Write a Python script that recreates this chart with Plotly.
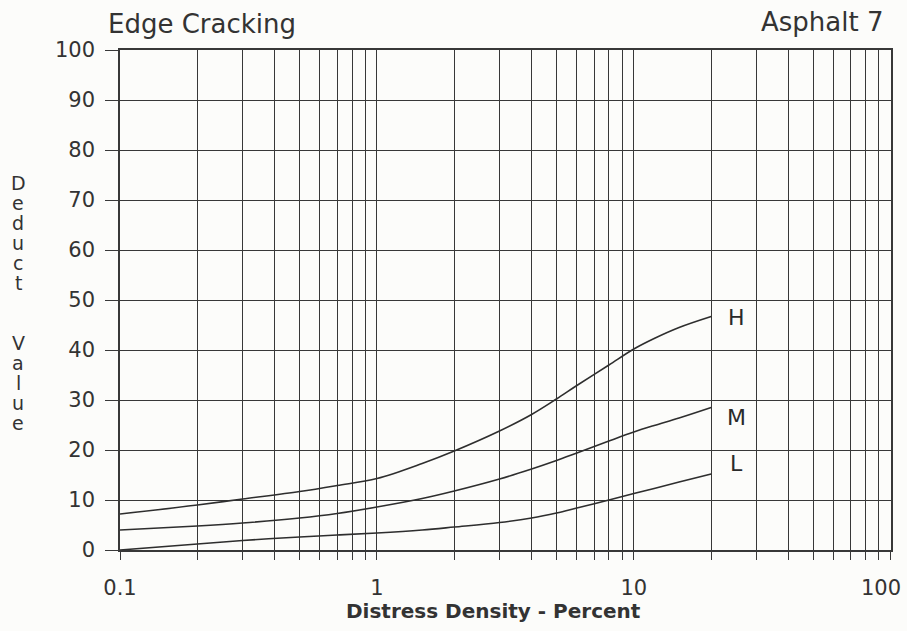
import math
import plotly.graph_objects as go

# ---- data ----
density = [0.1, 0.2, 0.3, 0.5, 0.7, 1, 1.5, 2, 3, 4, 5, 6, 8, 10, 12, 15, 20]
deduct_H = [7.2, 9.0, 10.2, 11.7, 12.9, 14.3, 17.3, 19.8, 23.8, 27.1, 30.2, 32.9, 37.0, 40.2, 42.3, 44.5, 46.7]
deduct_M = [4.0, 4.8, 5.4, 6.4, 7.3, 8.6, 10.3, 11.8, 14.2, 16.2, 17.9, 19.4, 21.8, 23.6, 24.9, 26.4, 28.5]
deduct_L = [0.0, 1.2, 1.9, 2.6, 3.0, 3.4, 4.0, 4.6, 5.5, 6.4, 7.4, 8.4, 10.0, 11.3, 12.3, 13.6, 15.2]
series_names = ["H", "M", "L"]
label_x = 25
label_y = [46.5, 26.5, 17.4]

x_tickvals = [m * 10 ** e for e in (-1, 0, 1) for m in range(1, 10)] + [100]
decade_labels = {0.1: "0.1", 1: "1", 10: "10"}
last_decade, last_decade_text = 100, "100"   # drawn beside the right edge, as in the reference
x_ticktext = [decade_labels.get(v, "") for v in x_tickvals]
y_tickvals = list(range(0, 101, 10))

title_left = "Edge Cracking"
title_right = "Asphalt 7"
x_title = "Distress Density - Percent"
y_title_letters = ["D", "e", "d", "u", "c", "t", "", "", "V", "a", "l", "u", "e"]

INK = "#383838"
FONT = "DejaVu Sans"

fig = go.Figure()
for name, ys in zip(series_names, [deduct_H, deduct_M, deduct_L]):
    fig.add_trace(go.Scatter(x=density, y=ys, mode="lines", name=name,
                             line=dict(color="#2e2e2e", width=1.6, shape="spline", smoothing=1.0),
                             showlegend=False, hoverinfo="skip"))

L_M, R_M, T_M, B_M = 120, 16, 50, 81
W, H = 907, 631
pw, ph = W - L_M - R_M, H - T_M - B_M

def px(xp):
    return (xp - L_M) / pw

def py(yp):
    return (H - B_M - yp) / ph

ann = []
for name, yv in zip(series_names, label_y):
    ann.append(dict(x=math.log10(label_x), y=yv, xref="x", yref="y", text=name, showarrow=False,
                    font=dict(family=FONT, size=22, color="#2a2a2a"), xanchor="center", yanchor="middle"))
ann.append(dict(x=math.log10(last_decade), y=py(588), xref="x", yref="paper", text=last_decade_text,
                showarrow=False, xshift=-10,
                font=dict(family=FONT, size=21, color="#333"), xanchor="center", yanchor="middle"))
ann.append(dict(x=px(106), y=py(24), xref="paper", yref="paper", text=title_left, showarrow=False,
                font=dict(family=FONT, size=26, color="#333"), xanchor="left", yanchor="middle"))
ann.append(dict(x=px(885), y=py(22), xref="paper", yref="paper", text=title_right, showarrow=False,
                font=dict(family=FONT, size=26, color="#333"), xanchor="right", yanchor="middle"))
ann.append(dict(x=px(493), y=py(611), xref="paper", yref="paper", text=x_title, showarrow=False,
                font=dict(family=FONT, size=20, color="#333", weight="bold"), xanchor="center", yanchor="middle"))
for i, ch in enumerate(y_title_letters):
    if ch:
        ann.append(dict(x=px(18), y=py(183 + 20 * i), xref="paper", yref="paper", text=ch, showarrow=False,
                        font=dict(family=FONT, size=19, color="#333"), xanchor="center", yanchor="middle"))

fig.update_layout(
    width=W, height=H,
    margin=dict(l=L_M, r=R_M, t=T_M, b=B_M, autoexpand=False),
    paper_bgcolor="#fcfcfa", plot_bgcolor="#fcfcfa",
    annotations=ann,
    xaxis=dict(type="log", range=[-1, 2.001], tickvals=x_tickvals, ticktext=x_ticktext,
               showgrid=True, gridcolor=INK, gridwidth=1.4,
               ticks="outside", ticklen=8, tickwidth=1.4, tickcolor=INK,
               showline=True, linecolor=INK, linewidth=1.6, mirror=True,
               tickfont=dict(family=FONT, size=21, color="#333"), ticklabelstandoff=10,
               automargin=False, zeroline=False),
    yaxis=dict(range=[0, 100], tickvals=y_tickvals,
               showgrid=True, gridcolor=INK, gridwidth=1.4,
               ticks="outside", ticklen=13, tickwidth=1.4, tickcolor=INK,
               showline=True, linecolor=INK, linewidth=1.6, mirror=True,
               tickfont=dict(family=FONT, size=21, color="#333"), ticklabelstandoff=6,
               automargin=False, zeroline=False),
)

fig.write_html("out.html")
